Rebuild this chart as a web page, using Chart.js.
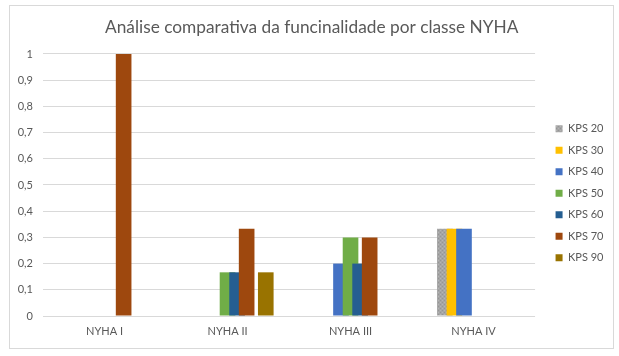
<!DOCTYPE html>
<html><head><meta charset="utf-8">
<script src="https://cdn.jsdelivr.net/npm/chart.js@4/dist/chart.umd.min.js"></script>
<style>
html,body{margin:0;padding:0;background:#fff;}
#wrap{position:relative;width:619px;height:356px;}
#frame{position:absolute;left:9px;top:5px;width:603px;height:342px;border:1px solid #d9d9d9;}
canvas{position:absolute;left:0;top:0;}
</style></head><body>
<div id="wrap"><div id="frame"></div><canvas id="c" width="619" height="356"></canvas></div>
<script>
// ---- data ----
const categories = ['NYHA I', 'NYHA II', 'NYHA III', 'NYHA IV'];
const seriesNames = ['KPS 20', 'KPS 30', 'KPS 40', 'KPS 50', 'KPS 60', 'KPS 70', 'KPS 90'];
const kps20 = [0, 0, 0, 0.3333];
const kps30 = [0, 0, 0, 0.3333];
const kps40 = [0, 0, 0.2, 0.3333];
const kps50 = [0, 0.1667, 0.3, 0];
const kps60 = [0, 0.1667, 0.2, 0];
const kps70 = [1, 0.3333, 0.3, 0];
const kps90 = [0, 0.1667, 0, 0];
const yTickLabels = ['0', '0,1', '0,2', '0,3', '0,4', '0,5', '0,6', '0,7', '0,8', '0,9', '1'];
const titleText = 'Análise comparativa da funcinalidade por classe NYHA';

// ---- styles ----
const FONT = "Lato, 'Open Sans', sans-serif";
const TXT = '#595959';
function grayPattern() {
  const p = document.createElement('canvas');
  p.width = 4; p.height = 4;
  const g = p.getContext('2d');
  g.fillStyle = '#a5a5a5'; g.fillRect(0, 0, 4, 4);
  g.fillStyle = '#959595'; g.fillRect(0, 0, 1, 1); g.fillRect(2, 2, 1, 1);
  g.fillStyle = '#b4b4b4'; g.fillRect(2, 0, 1, 1); g.fillRect(0, 2, 1, 1);
  return document.getElementById('c').getContext('2d').createPattern(p, 'repeat');
}
const seriesValues = [kps20, kps30, kps40, kps50, kps60, kps70, kps90];
const seriesColors = [grayPattern(), '#ffc000', '#4472c4', '#70ad47', '#255e91', '#9e480e', '#997300'];
const seriesSlots = ['s20', 's30', 's40', 's50', 's60', 's70', 's90'];
const slotOrder = ['pad', 's20', 's30', 's40', 's50', 's60', 's70', 's80', 's90'];

const datasets = seriesNames.map((name, i) => ({
  label: name,
  data: seriesValues[i],
  backgroundColor: seriesColors[i],
  borderWidth: 0,
  stack: seriesSlots[i],
  order: 100 - i
}));
// empty slot-defining datasets (fix the left-to-right slot order; draw nothing)
slotOrder.forEach((s, i) => datasets.push({
  label: '', data: categories.map(() => null), stack: s, order: i, isSlot: true
}));

new Chart(document.getElementById('c'), {
  type: 'bar',
  data: { labels: categories, datasets },
  options: {
    responsive: false,
    animation: false,
    events: [],
    categoryPercentage: 0.6996,
    barPercentage: 1.635,
    layout: { padding: { left: 10, right: 5.5, top: 0, bottom: 10 } },
    plugins: {
      tooltip: { enabled: false },
      title: {
        display: true, text: titleText, color: TXT,
        font: { family: FONT, size: 17.3, weight: 'normal', lineHeight: 1.2 },
        padding: { top: 16.6, bottom: 16.6 }
      },
      legend: {
        position: 'right', fullSize: false,
        title: { display: true, text: '', font: { family: FONT, size: 12, lineHeight: 1.2 }, padding: { top: 0, bottom: 2 } },
        labels: {
          boxWidth: 7, boxHeight: 7, padding: 10.5, color: TXT,
          font: { family: FONT, size: 11 },
          filter: (item, data) => !data.datasets[item.datasetIndex].isSlot,
          sort: (a, b) => a.datasetIndex - b.datasetIndex
        }
      }
    },
    scales: {
      x: {
        grid: { display: false, drawTicks: false }, border: { display: false },
        ticks: { color: TXT, font: { family: FONT, size: 11 }, padding: 9 },
        afterFit: (s) => { s.height = 30; }
      },
      y: {
        min: 0, max: 1, stacked: false,
        grid: { color: '#d9d9d9', drawTicks: false }, border: { display: false },
        ticks: { stepSize: 0.1, color: TXT, font: { family: FONT, size: 11 }, padding: 10,
          callback: (v, i) => yTickLabels[i] },
        afterFit: (s) => { s.width = 33; }
      },
      spacer: {
        type: 'linear', position: 'right', display: true,
        grid: { display: false, drawTicks: false }, border: { display: false },
        ticks: { display: false },
        afterFit: (s) => { s.width = 10; }
      }
    }
  }
});
</script>
</body></html>
